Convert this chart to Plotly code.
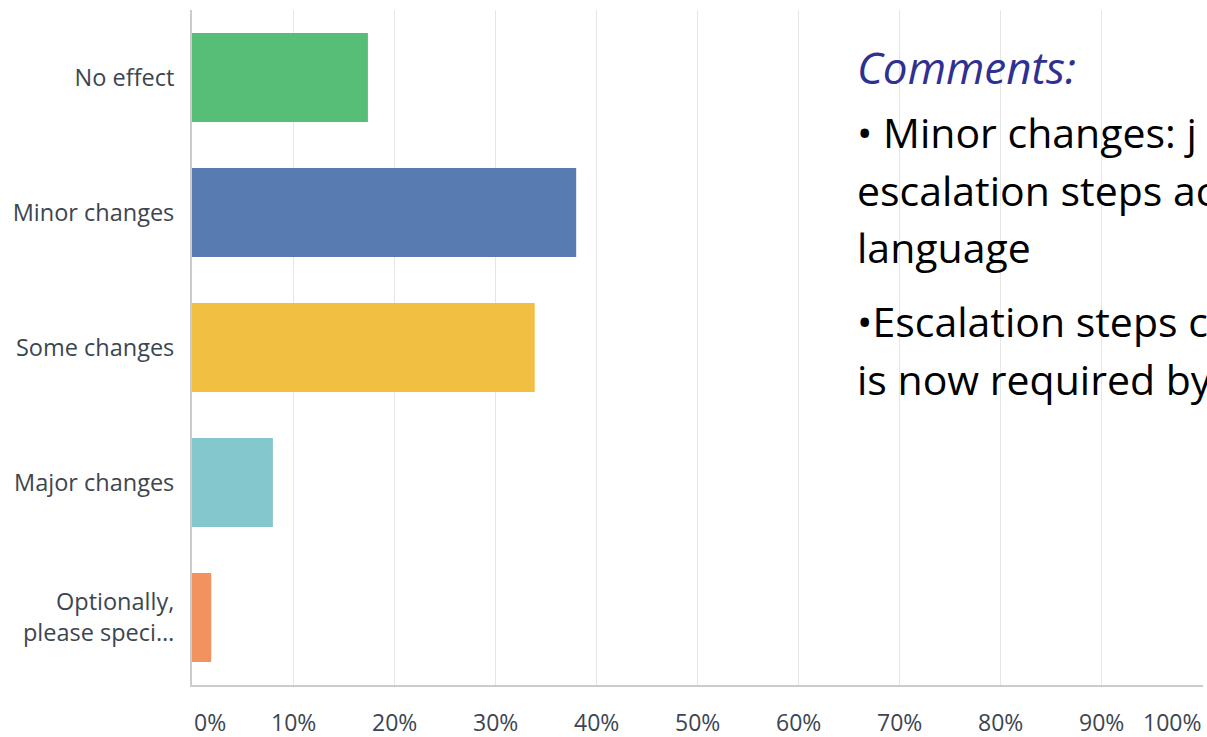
import plotly.graph_objects as go

categories = ["No effect", "Minor changes", "Some changes", "Major changes", "Optionally,<br>please speci…"]
values = [17.4, 38.0, 33.9, 8.0, 1.9]
bar_colors = ["#57be78", "#587cb2", "#f1bf42", "#84c7cc", "#f2935f"]
tick_vals = [0, 10, 20, 30, 40, 50, 60, 70, 80, 90, 100]
tick_text = ["0%", "10%", "20%", "30%", "40%", "50%", "60%", "70%", "80%", "90%", "100%"]

comment_title = "Comments:"
comment_lines = [
    "• Minor changes: j",
    "escalation steps ac",
    "language",
    "•Escalation steps c",
    "is now required by",
]

fig = go.Figure()
fig.add_trace(go.Bar(
    y=categories, x=values, orientation="h",
    marker=dict(color=bar_colors, line=dict(width=0)),
    width=0.66, hoverinfo="skip",
))

W, H = 1207, 737
ml, mr, mt, mb = 192, 4, 10, 52

fig.update_layout(
    width=W, height=H,
    margin=dict(l=ml, r=mr, t=mt, b=mb),
    paper_bgcolor="white", plot_bgcolor="white",
    showlegend=False,
    font=dict(family="Open Sans", color="#3c4650"),
    xaxis=dict(
        range=[0, 100], tickvals=tick_vals, showticklabels=False,
        showgrid=True, gridcolor="#e6e6e6", gridwidth=1,
        zeroline=False, showline=True, linecolor="#cccccc", linewidth=2,
        fixedrange=True,
    ),
    yaxis=dict(
        autorange=False, range=[4.5, -0.5],
        categoryorder="array", categoryarray=categories,
        showgrid=False, zeroline=False,
        showline=True, linecolor="#cccccc", linewidth=2,
        ticks="outside", ticklen=11, tickcolor="rgba(0,0,0,0)",
        tickfont=dict(family="Open Sans", size=23.5, color="#3c4650"),
        fixedrange=True,
    ),
)

# x tick labels (first left-aligned, last right-aligned)
for i, (v, t) in enumerate(zip(tick_vals, tick_text)):
    anchor = "left" if i == 0 else ("right" if i == len(tick_vals) - 1 else "center")
    fig.add_annotation(
        x=v, xref="x", y=0, yref="y domain", yshift=-37,
        text=t, showarrow=False, xanchor=anchor, yanchor="middle",
        font=dict(family="Open Sans", size=23, color="#3c4650"),
    )

plot_w = W - ml - mr
plot_h = H - mt - mb
def px_x(px):
    return (px - ml) / plot_w
def px_y(py):
    return 1 - (py - mt) / plot_h

fig.add_annotation(
    x=px_x(855), y=px_y(67), xref="paper", yref="paper",
    text="<i>" + comment_title + "</i>", showarrow=False,
    xanchor="left", yanchor="middle",
    font=dict(family="Open Sans", size=44, color="#2e3192"),
)
line_y = [132, 190, 247, 321, 379]
for t, yy in zip(comment_lines, line_y):
    fig.add_annotation(
        x=px_x(855), y=px_y(yy), xref="paper", yref="paper",
        text=t, showarrow=False, xanchor="left", yanchor="middle",
        font=dict(family="Open Sans", size=41, color="#000000"),
    )

fig.write_html("out.html")
